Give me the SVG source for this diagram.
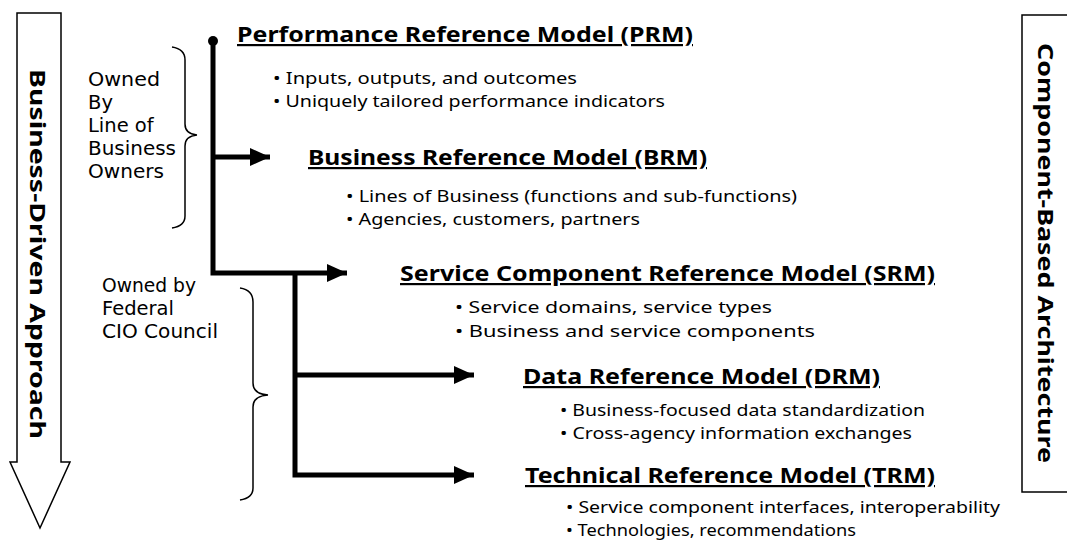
<svg xmlns="http://www.w3.org/2000/svg" width="1067" height="542" viewBox="0 0 1067 542">
<defs>
<marker id="ah" markerUnits="userSpaceOnUse" markerWidth="22" markerHeight="18" refX="20" refY="9" orient="auto">
<path d="M0,0 L20,9 L0,18 z" fill="#000"/>
</marker>
<style>
.title{font-family:"Noto Sans","DejaVu Sans",sans-serif;font-weight:bold;font-size:22px;text-decoration:underline;fill:#000}
.bul{font-family:"Noto Sans","DejaVu Sans",sans-serif;font-size:17px;fill:#000}
.lbl{font-family:"DejaVu Sans","Noto Sans",sans-serif;font-size:19.5px;fill:#000}
.vert{font-family:"Noto Sans","DejaVu Sans",sans-serif;font-weight:bold;font-size:22px;fill:#000}
.conn{stroke:#000;stroke-width:5;fill:none}
.brace{stroke:#000;stroke-width:1.5;fill:none}
</style>
</defs>
<rect width="1067" height="542" fill="#fff"/>

<g id="business-driven-arrow">
<polygon points="17,13 61,13 61,462 70,462 40,528 10,462 17,462" fill="#fff" stroke="#000" stroke-width="1.5"/>
<text class="vert" transform="translate(39,254) rotate(90)" text-anchor="middle" dominant-baseline="central" textLength="370" lengthAdjust="spacingAndGlyphs">Business-Driven Approach</text>
</g>

<g id="component-based-box">
<path d="M1067,15 L1022,15 L1022,492 L1067,492" fill="none" stroke="#000" stroke-width="1.5"/>
<text class="vert" transform="translate(1047,253) rotate(90)" text-anchor="middle" dominant-baseline="central" textLength="420" lengthAdjust="spacingAndGlyphs">Component-Based Architecture</text>
</g>

<g id="owner-lob">
<text class="lbl" x="88" y="86" textLength="72" lengthAdjust="spacingAndGlyphs">Owned</text>
<text class="lbl" x="88" y="109">By</text>
<text class="lbl" x="88" y="132">Line of</text>
<text class="lbl" x="88" y="155" textLength="88" lengthAdjust="spacingAndGlyphs">Business</text>
<text class="lbl" x="88" y="178" textLength="76" lengthAdjust="spacingAndGlyphs">Owners</text>
<path class="brace" d="M172,47 Q185,49 185,60 L185,124 Q185,134 197,135 Q185,136 185,146 L185,216 Q185,226 172,228"/>
</g>

<g id="owner-cio">
<text class="lbl" x="102" y="292" textLength="94" lengthAdjust="spacingAndGlyphs">Owned by</text>
<text class="lbl" x="102" y="315">Federal</text>
<text class="lbl" x="102" y="338" textLength="116" lengthAdjust="spacingAndGlyphs">CIO Council</text>
<path class="brace" d="M240,288 Q253,290 253,302 L253,383 Q253,394 268,395 Q253,396 253,407 L253,488 Q253,498 240,500"/>
</g>

<g id="connectors">
<circle cx="213" cy="41" r="5" fill="#000"/>
<path class="conn" d="M213,41 L213,273 L347,273" marker-end="url(#ah)"/>
<path class="conn" d="M213,157 L270,157" marker-end="url(#ah)"/>
<path class="conn" d="M295,273 L295,475 L474,475" marker-end="url(#ah)"/>
<path class="conn" d="M295,375 L474,375" marker-end="url(#ah)"/>
</g>

<g id="prm">
<text class="title" x="237" y="42" textLength="456" lengthAdjust="spacingAndGlyphs">Performance Reference Model (PRM)</text>
<text class="bul" x="273" y="84" textLength="304" lengthAdjust="spacingAndGlyphs">• Inputs, outputs, and outcomes</text>
<text class="bul" x="273" y="107" textLength="392" lengthAdjust="spacingAndGlyphs">• Uniquely tailored performance indicators</text>
</g>

<g id="brm">
<text class="title" x="308" y="165" textLength="399" lengthAdjust="spacingAndGlyphs">Business Reference Model (BRM)</text>
<text class="bul" x="346" y="202" textLength="451" lengthAdjust="spacingAndGlyphs">• Lines of Business (functions and sub-functions)</text>
<text class="bul" x="346" y="225" textLength="294" lengthAdjust="spacingAndGlyphs">• Agencies, customers, partners</text>
</g>

<g id="srm">
<text class="title" x="400" y="281" textLength="535" lengthAdjust="spacingAndGlyphs">Service Component Reference Model (SRM)</text>
<text class="bul" x="455" y="313" textLength="317" lengthAdjust="spacingAndGlyphs">• Service domains, service types</text>
<text class="bul" x="455" y="337" textLength="360" lengthAdjust="spacingAndGlyphs">• Business and service components</text>
</g>

<g id="drm">
<text class="title" x="523" y="384" textLength="357" lengthAdjust="spacingAndGlyphs">Data Reference Model (DRM)</text>
<text class="bul" x="560" y="416" textLength="365" lengthAdjust="spacingAndGlyphs">• Business-focused data standardization</text>
<text class="bul" x="560" y="439" textLength="352" lengthAdjust="spacingAndGlyphs">• Cross-agency information exchanges</text>
</g>

<g id="trm">
<text class="title" x="525" y="483" textLength="410" lengthAdjust="spacingAndGlyphs">Technical Reference Model (TRM)</text>
<text class="bul" x="566" y="513" textLength="434" lengthAdjust="spacingAndGlyphs">• Service component interfaces, interoperability</text>
<text class="bul" x="566" y="536" textLength="290" lengthAdjust="spacingAndGlyphs">• Technologies, recommendations</text>
</g>
</svg>
